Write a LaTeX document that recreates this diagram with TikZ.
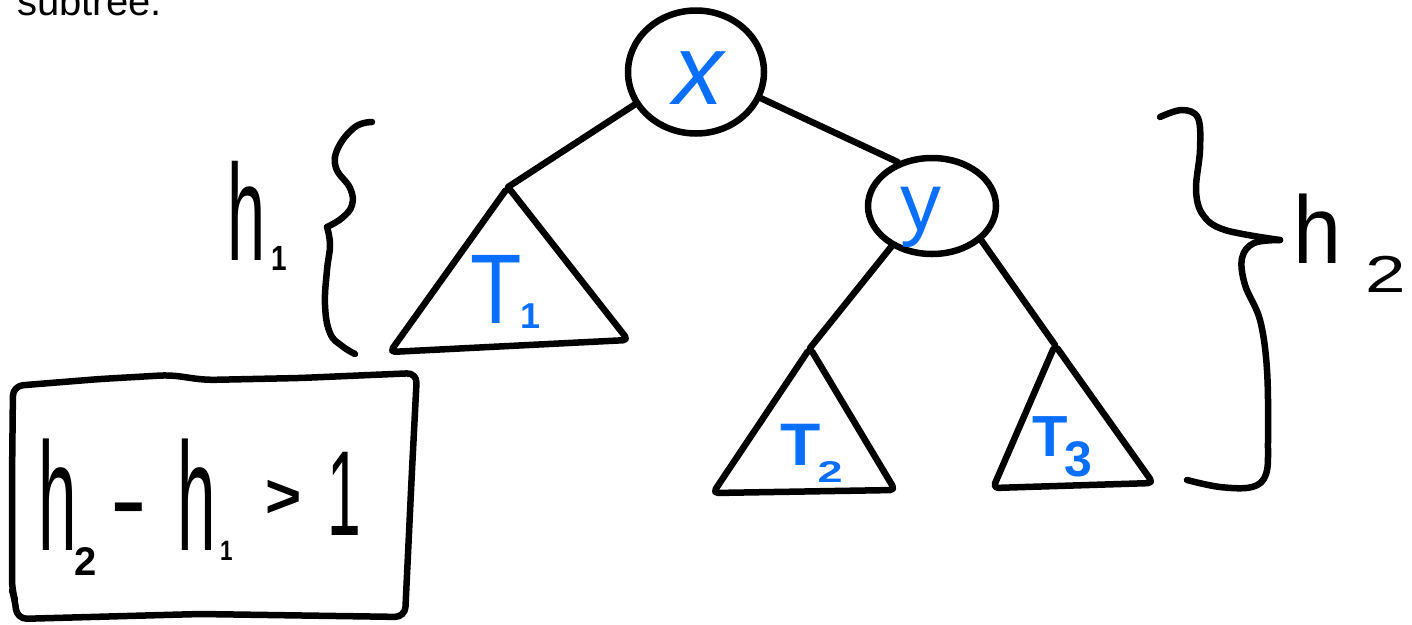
\documentclass[tikz,border=0pt]{standalone}
\usepackage{fontspec}
\setmainfont{Liberation Sans}
\usepackage{graphicx}
\usetikzlibrary{shapes.geometric}
\definecolor{inkblue}{RGB}{10,110,255}
\newcommand\hw[2]{\scalebox{#1}[1]{#2}}
\newcommand\fs[1]{\fontsize{#1}{#1}\selectfont}
\newcommand\bs[1]{\bfseries\fontsize{#1}{#1}\selectfont}
\begin{document}
\begin{tikzpicture}[x=1pt,y=-1pt, line cap=round, line join=round,
  pen/.style={line width=6.5pt, draw=black},
  bub/.style={ellipse, draw=black, line width=6.5pt, inner sep=0pt},
  lbl/.style={inner sep=0pt, anchor=base west, text=inkblue},
  hand/.style={inner sep=0pt, anchor=base west, text=black}]
\useasboundingbox (0,0) rectangle (1412,624);

% caption fragment
\node[hand] (cap) at (17,15) {\fs{40}subtree.};

% tree nodes
\node[bub, minimum width=136pt, minimum height=123pt] (x) at (696,72) {};
\node[bub, minimum width=128pt, minimum height=96pt] (y) at (932,206) {};
\node[lbl, anchor=base] (xl) at (698,104) {\itshape\fs{100}x};
\node[lbl, anchor=base] (yl) at (921,230) {\fs{82}y};

% subtrees
\coordinate (t1) at (508,187);
\coordinate (t1l) at (390,352);
\coordinate (t1r) at (628,340);
\coordinate (t2) at (810,348);
\coordinate (t2l) at (713,493);
\coordinate (t2r) at (895,490);
\coordinate (t3) at (1055,345);
\coordinate (t3l) at (993,488);
\coordinate (t3r) at (1153,483);
\draw[pen, rounded corners=5pt] (t1) -- (t1l) -- (t1r) -- cycle;
\draw[pen, rounded corners=5pt] (t2) -- (t2l) -- (t2r) -- cycle;
\draw[pen, rounded corners=5pt] (t3) -- (t3l) -- (t3r) -- cycle;

\node[lbl] (T1) at (470,323) {\hw{0.85}{\fs{99}T}\hspace{-1pt}\raisebox{-5pt}{\bs{36}1}};
\node[lbl] (T2) at (780,465) {\hw{1.1}{\bs{60}T}\hspace{-3pt}\raisebox{-17pt}{\hw{1.5}{\bs{30}2}}};
\node[lbl] (T3) at (1032,456) {\bs{58}T\hspace{-3pt}\raisebox{-20pt}{\bs{50}3}};

% edges
\draw[pen] (x.208) -- (t1);
\draw[pen] (x.-22) -- (y.128);
\draw[pen] (y.225) -- (t2);
\draw[pen] (y.-35) -- (t3);

% left brace h1
\draw[pen] plot[smooth, tension=0.7] coordinates {(372,122) (355,127) (338,148) (336,168) (350,188) (352,205) (342,218) (327,227)};
\draw[pen] plot[smooth, tension=0.7] coordinates {(327,227) (330,245) (327,270) (325,305) (330,333) (342,346) (355,354)};
\node[hand] (h1) at (227.5,260) {\hw{0.5}{\fs{137}h}\hspace{6pt}\raisebox{-10pt}{\hw{0.8}{\bs{35}1}}};

% right brace h2
\draw[pen] plot[smooth, tension=0.6] coordinates {(1160,117) (1182,110) (1198,118) (1200,150) (1196,190) (1203,215) (1225,230) (1280,240)};
\draw[pen] plot[smooth, tension=0.6] coordinates {(1280,240) (1254,243) (1242,258) (1245,285) (1260,320) (1267,370) (1268,440) (1266,474) (1252,487) (1220,487) (1187,480)};
\node[hand] (h2) at (1293,263) {\hw{0.9}{\fs{96}h}\hspace{24pt}\raisebox{-29pt}{\hw{1.4}{\fs{52}2}}};

% boxed inequality
\draw[pen, rounded corners=10pt] (13,386) -- (100,379) -- (170,375) -- (205,380) -- (300,378) -- (417,373) -- (412,470) -- (405,617) -- (200,614) -- (17,619) -- (15,600) -- (12,590) -- (12,480) -- cycle;
\node[hand] (ineq) at (38,550) {\hw{0.45}{\fs{154}h}\hspace{-2pt}\raisebox{-25pt}{\bs{40}2}\hspace{14pt}\raisebox{14pt}{\fs{110}-}\hspace{30pt}\hw{0.45}{\fs{154}h}\hspace{4pt}\raisebox{-10pt}{\hw{0.8}{\bs{28}1}}\hspace{33pt}\raisebox{33pt}{\bs{62}>}\hspace{26pt}\raisebox{15pt}{\hw{0.5}{\fs{121}1}}};
\end{tikzpicture}
\end{document}
